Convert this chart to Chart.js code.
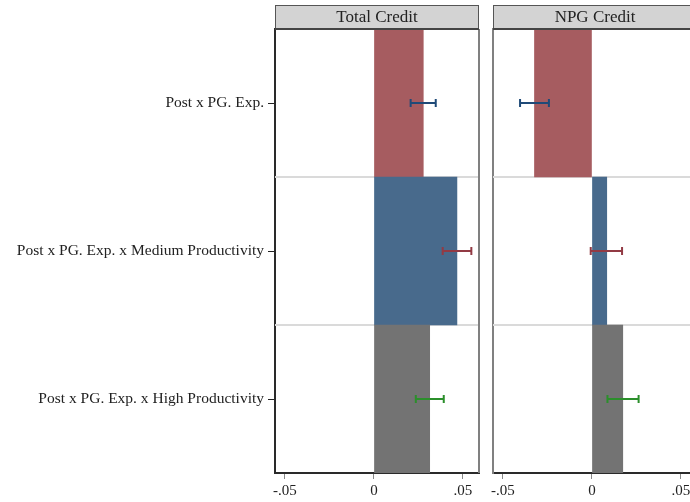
<!DOCTYPE html>
<html>
<head>
<meta charset="utf-8">
<script src="https://cdn.jsdelivr.net/npm/chart.js@4.4.1/dist/chart.umd.min.js"></script>
<style>
  body { margin: 0; background: #fff; overflow: hidden; width: 690px; height: 502px; position: relative; }
  #totalChart { position: absolute; left: 0; top: 0; }
  #npgChart { position: absolute; left: 485px; top: 0; }
</style>
</head>
<body>
<canvas id="totalChart" width="480" height="502"></canvas>
<canvas id="npgChart" width="215" height="502"></canvas>
<script>
// 데이터
const categories = ['Post x PG. Exp.', 'Post x PG. Exp. x Medium Productivity', 'Post x PG. Exp. x High Productivity'];
const panelTitles = ['Total Credit', 'NPG Credit'];
const xTicks = [-0.05, 0, 0.05];

const totalCoef = [0.0277, 0.0466, 0.0313];
const totalLow = [0.0206, 0.0386, 0.0235];
const totalHigh = [0.0347, 0.0547, 0.0392];

const npgCoef = [-0.0323, 0.0083, 0.0173];
const npgLow = [-0.0404, -0.0007, 0.0087];
const npgHigh = [-0.0242, 0.0169, 0.0262];

const barColors = ['#a65c60', '#486a8c', '#737373'];
const ciColors = ['#1f4a78', '#923a44', '#2b8f2b'];

const X_MIN = -0.0556;
const X_MAX = 0.0590;

Chart.defaults.font.family = '"Liberation Serif", "DejaVu Serif", serif';
Chart.defaults.color = '#222';

function formatTick(v) {
    if (Math.abs(v) < 1e-9) return '0';
    return (v < 0 ? '-' : '') + Math.abs(v).toFixed(2).replace(/^0/, '');
}

// 헤더, 구분선, 오차막대, 테두리를 그리는 플러그인
const panelPlugin = {
    id: 'panelPlugin',
    beforeDatasetsDraw(chart, args, opts) {
        const { ctx, chartArea } = chart;
        const yScale = chart.scales.y;
        ctx.save();
        ctx.strokeStyle = '#dadada';
        ctx.lineWidth = 2;
        for (let i = 0; i < categories.length - 1; i++) {
            const y = (yScale.getPixelForValue(i) + yScale.getPixelForValue(i + 1)) / 2;
            ctx.beginPath();
            ctx.moveTo(chartArea.left, y);
            ctx.lineTo(chartArea.right, y);
            ctx.stroke();
        }
        ctx.restore();
    },
    afterDatasetsDraw(chart, args, opts) {
        const { ctx, chartArea } = chart;
        const xScale = chart.scales.x;
        const yScale = chart.scales.y;
        ctx.save();
        // 오차막대
        ctx.lineWidth = 2;
        for (let i = 0; i < categories.length; i++) {
            const y = yScale.getPixelForValue(i);
            const x1 = xScale.getPixelForValue(opts.low[i]);
            const x2 = xScale.getPixelForValue(opts.high[i]);
            ctx.strokeStyle = ciColors[i];
            ctx.beginPath();
            ctx.moveTo(x1, y); ctx.lineTo(x2, y);
            ctx.moveTo(x1, y - 4); ctx.lineTo(x1, y + 4);
            ctx.moveTo(x2, y - 4); ctx.lineTo(x2, y + 4);
            ctx.stroke();
        }
        // 오른쪽 테두리
        if (opts.rightGrey) {
            ctx.strokeStyle = '#808080';
            ctx.lineWidth = 2;
            ctx.beginPath();
            ctx.moveTo(chartArea.right, 29);
            ctx.lineTo(chartArea.right, chartArea.bottom);
            ctx.stroke();
        }
        // 헤더 박스
        const top = 5, bottom = 29;
        ctx.fillStyle = '#d3d3d3';
        ctx.fillRect(chartArea.left, top, chartArea.right - chartArea.left, bottom - top);
        ctx.strokeStyle = '#555';
        ctx.lineWidth = 1;
        ctx.strokeRect(chartArea.left + 0.5, top + 0.5, chartArea.right - chartArea.left - 1, bottom - top);
        ctx.lineWidth = 2;
        ctx.strokeStyle = '#444';
        ctx.beginPath();
        ctx.moveTo(chartArea.left, bottom);
        ctx.lineTo(chartArea.right, bottom);
        ctx.stroke();
        ctx.fillStyle = '#222';
        ctx.font = '17px "Liberation Serif", serif';
        ctx.textAlign = 'center';
        ctx.textBaseline = 'middle';
        ctx.fillText(opts.title, (chartArea.left + chartArea.right) / 2, (top + bottom) / 2 + 1);
        ctx.restore();
    }
};

function createPanel(canvasId, title, coef, low, high, showLabels, axisWidth, padRight) {
    const ctx = document.getElementById(canvasId).getContext('2d');
    return new Chart(ctx, {
        type: 'bar',
        data: {
            labels: categories,
            datasets: [{
                data: coef,
                backgroundColor: barColors,
                borderWidth: 0,
                barPercentage: 1,
                categoryPercentage: 1,
            }],
        },
        options: {
            indexAxis: 'y',
            responsive: false,
            animation: false,
            layout: { padding: { top: 29, right: padRight, bottom: 0, left: 0 } },
            plugins: {
                legend: { display: false },
                tooltip: { enabled: false },
                panelPlugin: { title, low, high, rightGrey: showLabels },
            },
            scales: {
                x: {
                    type: 'linear',
                    min: X_MIN,
                    max: X_MAX,
                    afterBuildTicks: axis => { axis.ticks = xTicks.map(v => ({ value: v })); },
                    afterFit: scale => { scale.height = 29; },
                    grid: { drawOnChartArea: false, drawTicks: true, tickLength: 6, tickColor: '#888' },
                    border: { display: true, color: '#2a2a2a', width: 2 },
                    ticks: { font: { size: 15 }, color: '#222', padding: 3, maxRotation: 0, callback: v => formatTick(v) },
                },
                y: {
                    afterFit: scale => { scale.width = axisWidth; },
                    grid: { offset: false, drawOnChartArea: false, drawTicks: showLabels, tickLength: 7, tickColor: '#222' },
                    border: { display: true, color: showLabels ? '#2a2a2a' : '#808080', width: 2 },
                    ticks: { display: showLabels, font: { size: 15.5 }, color: '#222', padding: 4 },
                },
            },
        },
        plugins: [panelPlugin],
    });
}

createPanel('totalChart', panelTitles[0], totalCoef, totalLow, totalHigh, true, 275, 1);
createPanel('npgChart', panelTitles[1], npgCoef, npgLow, npgHigh, false, 8, 3);
</script>
</body>
</html>
